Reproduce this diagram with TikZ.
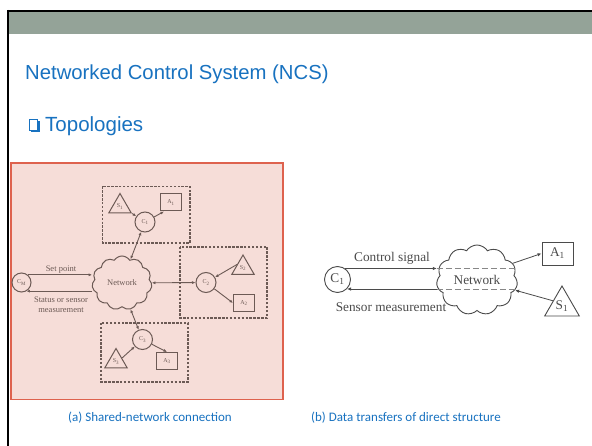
\documentclass[tikz,border=0pt]{standalone}
\usepackage{fontspec}
\setmainfont{Liberation Serif}
\newfontfamily\slidesans{Liberation Sans}
\newfontfamily\captionsans{Carlito}
\usetikzlibrary{shapes.geometric,shapes.symbols,arrows.meta}

\definecolor{slideblue}{RGB}{24,114,192}
\definecolor{bandgray}{RGB}{148,163,152}
\definecolor{panelpink}{RGB}{246,221,216}
\definecolor{panelred}{RGB}{222,98,78}
\definecolor{inkA}{RGB}{108,90,85}
\definecolor{inkB}{RGB}{75,75,75}
\definecolor{dashgray}{RGB}{135,135,135}

\tikzset{
  fa/.style={font=\fontsize{8.5}{10}\selectfont},
  fs/.style={font=\fontsize{6}{7}\selectfont},
  ctlA/.style={circle, draw=inkA, line width=1pt, minimum size=20pt, inner sep=0pt, fs, text=inkA},
  sensA/.style={regular polygon, regular polygon sides=3, draw=inkA, line width=1pt, minimum size=26pt, inner sep=0pt, fs, text=inkA},
  actA/.style={rectangle, draw=inkA, line width=1pt, minimum width=21pt, minimum height=17pt, inner sep=0pt, fs, text=inkA},
  groupbox/.style={draw=inkA, line width=1.2pt, dash pattern=on 2.4pt off 1.5pt},
  netA/.style={cloud, cloud puffs=11, cloud puff arc=115, aspect=1.1, draw=inkA, line width=1pt, minimum width=60pt, minimum height=54pt, inner sep=0pt, fa, text=inkA},
  arrA/.style={draw=inkA, line width=0.9pt, -{Latex[length=3.5pt,width=3pt]}},
  biA/.style={draw=inkA, line width=0.9pt, {Latex[length=3.5pt,width=3pt]}-{Latex[length=3.5pt,width=3pt]}},
  fb/.style={font=\fontsize{13.3}{15}\selectfont},
  ctlB/.style={circle, draw=inkB, line width=0.9pt, minimum size=26pt, inner sep=0pt, fb, text=inkB},
  sensB/.style={regular polygon, regular polygon sides=3, draw=inkB, line width=0.9pt, minimum size=40pt, inner sep=0pt, fb, text=inkB},
  actB/.style={rectangle, draw=inkB, line width=0.9pt, minimum width=31pt, minimum height=23pt, inner sep=0pt, fb, text=inkB},
  netB/.style={cloud, cloud puffs=11, cloud puff arc=115, aspect=1.2, draw=inkB, line width=0.9pt, minimum width=81pt, minimum height=70pt, inner sep=0pt, fb, text=inkB},
  arrB/.style={draw=inkB, line width=0.8pt, -{Latex[length=4pt,width=3.5pt]}},
  insideB/.style={draw=dashgray, line width=0.8pt, dash pattern=on 6pt off 3pt},
  titletext/.style={anchor=base west, inner sep=0pt, text=slideblue},
  captext/.style={inner sep=0pt, text=slideblue, font=\captionsans\fontsize{13}{15}\selectfont},
}

\begin{document}
\begin{tikzpicture}[x=1pt,y=-1pt]
  \useasboundingbox (0,0) rectangle (592,446);
  \fill[white] (0,0) rectangle (592,446);

  % slide frame and header band
  \fill[bandgray] (9,12) rectangle (592,34);
  \draw[line width=2pt] (7,11) -- (592,11);
  \draw[line width=2pt] (8,10) -- (8,446);

  % headings
  \node[titletext, font=\slidesans\fontsize{20.3}{24}\selectfont] (title) at (25,80) {Networked Control System (NCS)};
  \draw[slideblue, line width=0.9pt] (29.8,119.8) rectangle (37.6,130);
  \fill[slideblue] (37.6,121.2) rectangle (39.6,131.8);
  \fill[slideblue] (31.2,130) rectangle (39.6,131.8);
  \node[titletext, font=\slidesans\fontsize{20.5}{24}\selectfont] (topo) at (45,132) {Topologies};

  % ---------- (a) shared network ----------
  \draw[panelred, fill=panelpink, line width=1.5pt] (11,163) rectangle (283,399.5);

  \draw[groupbox] (102.5,186.5) rectangle (190,243);
  \draw[groupbox] (180,247) rectangle (267,318);
  \draw[groupbox] (101,323) rectangle (188,382);

  \node[netA] (net) at (122,283) {Network};
  \node[ctlA, minimum size=19pt] (cm) at (21.5,282.5) {C\textsubscript{M}};

  \node[ctlA] (c1) at (145,222) {C\textsubscript{1}};
  \node[sensA] (s1) at (120,206.5) {S\textsubscript{1}};
  \node[actA] (a1) at (171,202.5) {A\textsubscript{1}};

  \node[ctlA] (c2) at (206,282.5) {C\textsubscript{2}};
  \node[sensA] (s2) at (243,268) {S\textsubscript{2}};
  \node[actA] (a2) at (244,303) {A\textsubscript{2}};

  \node[ctlA] (c3) at (142.5,339.5) {C\textsubscript{3}};
  \node[sensA] (s3) at (116,361.5) {S\textsubscript{3}};
  \node[actA] (a3) at (167,361) {A\textsubscript{3}};

  \draw[arrA] (cm.50) -- (cm.50 -| net.west);
  \draw[arrA] (cm.-60 -| net.west) -- (cm.-60);
  \node[fa, text=inkA, inner sep=0pt] (lset) at (61,270) {Set point};
  \node[fa, text=inkA, inner sep=0pt, align=center] (lstat) at (61,305) {Status or sensor\\measurement};

  \draw[biA] (c1) -- (net.70);
  \draw[biA] (net) -- (c2);
  \draw[biA] (net.-72) -- (c3);

  \draw[arrA] (s1.corner 3) -- (c1);
  \draw[arrA] (c1) -- ([xshift=4pt]a1.south west);
  \draw[arrA] (s2.side 1) -- (c2);
  \draw[arrA] (c2) -- (a2.west);
  \draw[arrA] (s3.side 3) -- (c3);
  \draw[arrA] (c3) -- (a3.north);

  \node[captext] (capa) at (150,418) {(a) Shared-network connection};

  % ---------- (b) direct structure ----------
  \node[netB] (clb) at (477,280) {Network};
  \node[ctlB] (c1b) at (337.5,279.5) {C\textsubscript{1}};
  \node[actB] (a1b) at (557.5,253.5) {A\textsubscript{1}};
  \node[sensB] (s1b) at (562,306) {S\textsubscript{1}};

  \coordinate (ctop) at (c1b.55);
  \coordinate (cbot) at (c1b.-45);
  \draw[arrB] (ctop) -- (ctop -| clb.west);
  \draw[insideB] (ctop -| clb.west) -- (ctop -| clb.east);
  \draw[arrB] (cbot -| clb.west) -- (cbot);
  \draw[insideB] (cbot -| clb.west) -- (cbot -| clb.east);
  \node[fb, text=inkB, inner sep=0pt] (lctl) at (392,258) {Control signal};
  \node[fb, text=inkB, inner sep=0pt] (lsens) at (391,307) {Sensor measurement};

  \draw[arrB] (clb.25) -- (a1b.west);
  \draw[arrB] (s1b.side 1) -- (clb.-15);

  \node[captext] (capb) at (406,418) {(b) Data transfers of direct structure};
\end{tikzpicture}
\end{document}
